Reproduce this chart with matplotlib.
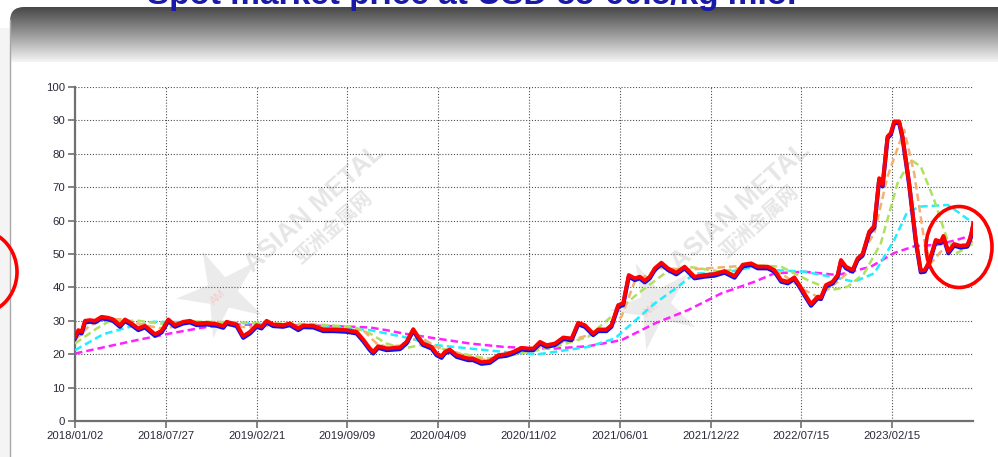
import matplotlib
matplotlib.use("Agg")
import matplotlib.pyplot as plt
import matplotlib.transforms as mtransforms
from matplotlib.patches import Ellipse, Rectangle, FancyBboxPatch, Polygon
from matplotlib.colors import LinearSegmentedColormap
import numpy as np

plt.rcParams['font.family'] = ['Liberation Sans', 'DejaVu Sans']

# ---------------- data (x in tick-interval units, 0 = 2018/01/02) ----------------
tick_labels = ["2018/01/02", "2018/07/27", "2019/02/21", "2019/09/09", "2020/04/09",
               "2020/11/02", "2021/06/01", "2021/12/22", "2022/07/15", "2023/02/15"]

price_x = [0.0, 0.037, 0.073, 0.11, 0.165, 0.22, 0.294, 0.367, 0.422, 0.495, 0.55, 0.624,
           0.697, 0.771, 0.881, 0.954, 1.028, 1.101, 1.193, 1.266, 1.339, 1.45, 1.56, 1.633,
           1.67, 1.78, 1.853, 1.927, 2.0, 2.055, 2.11, 2.183, 2.294, 2.367, 2.459, 2.514,
           2.624, 2.734, 2.844, 2.991, 3.101, 3.174, 3.248, 3.284, 3.339, 3.431, 3.578, 3.651,
           3.725, 3.78, 3.835, 3.927, 3.982, 4.037, 4.073, 4.128, 4.202, 4.33, 4.385, 4.477,
           4.569, 4.661, 4.752, 4.826, 4.917, 4.99, 5.048, 5.121, 5.194, 5.286, 5.377, 5.469,
           5.542, 5.615, 5.707, 5.762, 5.853, 5.908, 5.982, 6.037, 6.099, 6.165, 6.22, 6.275,
           6.33, 6.385, 6.458, 6.531, 6.623, 6.714, 6.824, 6.934, 7.044, 7.154, 7.264, 7.355,
           7.447, 7.52, 7.63, 7.703, 7.777, 7.85, 7.923, 7.978, 8.033, 8.106, 8.179, 8.216,
           8.271, 8.344, 8.399, 8.436, 8.491, 8.564, 8.619, 8.674, 8.747, 8.802, 8.857, 8.894,
           8.949, 8.985, 9.022, 9.077, 9.114, 9.187, 9.26, 9.315, 9.359, 9.407, 9.48, 9.535,
           9.564, 9.619, 9.681, 9.755, 9.828, 9.864, 9.894]
price = [25.2, 27.2, 26.7, 30.0, 30.2, 30.0, 31.2, 30.9, 30.4, 28.7, 30.4, 29.2,
         27.7, 28.5, 26.0, 27.0, 30.4, 28.7, 29.7, 30.0, 29.2, 29.4, 29.0, 28.4,
         29.7, 28.9, 25.4, 26.7, 28.7, 28.2, 30.0, 28.9, 28.7, 29.2, 27.7, 28.6,
         28.5, 27.4, 27.4, 27.2, 26.7, 24.4, 21.7, 20.7, 22.4, 21.7, 22.0, 23.7,
         27.5, 25.2, 23.2, 22.2, 20.2, 19.4, 20.7, 21.4, 19.7, 18.7, 18.7, 17.6,
         17.9, 19.7, 20.0, 20.7, 21.9, 21.7, 21.7, 23.7, 22.7, 23.2, 25.0, 24.7,
         29.4, 28.7, 26.2, 27.4, 27.4, 28.7, 34.7, 35.2, 43.7, 42.7, 43.2, 42.0,
         43.2, 45.7, 47.4, 45.7, 44.4, 46.2, 43.2, 43.7, 44.0, 44.9, 43.4, 46.8,
         47.2, 46.2, 46.2, 45.2, 42.2, 41.7, 43.0, 40.7, 38.2, 35.0, 37.2, 37.0,
         40.7, 41.7, 43.7, 48.2, 46.2, 45.2, 48.7, 50.0, 56.7, 58.4, 72.7, 70.7,
         85.2, 86.2, 89.7, 89.7, 85.2, 71.2, 54.2, 45.0, 45.2, 47.7, 54.2, 53.7,
         55.4, 50.7, 53.0, 52.4, 52.7, 55.2, 59.2]

ma_orange_x = [0.0, 0.165, 0.312, 0.5, 0.8, 1.0, 1.2, 1.5, 1.9, 2.1, 2.5, 3.0, 3.174, 3.321,
               3.431, 3.615, 3.798, 3.982, 4.349, 4.532, 4.899, 5.469, 5.835, 6.018, 6.165,
               6.458, 6.751, 7.484, 7.777, 8.033, 8.179, 8.399, 8.582, 8.802, 8.949, 9.132,
               9.242, 9.352, 9.425, 9.535, 9.681, 9.894]
ma_orange = [24.2, 28.7, 30.2, 30.5, 28.5, 27.5, 29.5, 29.3, 28.0, 28.5, 28.5, 27.3, 27.2, 23.2,
             22.2, 22.7, 25.2, 22.2, 19.2, 18.2, 20.7, 24.2, 27.2, 31.2, 41.8,
             45.8, 45.3, 46.7, 44.2, 39.2, 37.2, 41.7, 46.2, 56.2, 73.2, 87.2,
             74.2, 54.2, 47.2, 50.7, 52.2, 53.7]

ma_green_x = [0.0, 0.239, 0.385, 0.7, 1.0, 1.3, 1.8, 2.2, 2.6, 3.064, 3.248, 3.431, 3.615,
              3.798, 3.982, 4.165, 4.349, 4.532, 4.716, 4.899, 5.286, 5.652, 5.945, 6.201,
              6.495, 6.751, 7.117, 7.484, 7.777, 8.07, 8.326, 8.509, 8.692, 8.875, 9.059,
              9.205, 9.315, 9.462, 9.608, 9.718, 9.894]
ma_green = [23.2, 27.7, 30.0, 30.0, 29.0, 29.8, 29.5, 29.2, 29.0, 28.2, 26.2, 23.2, 21.7,
            22.7, 22.2, 20.7, 19.7, 18.7, 19.2, 20.2, 22.2, 25.2, 32.2, 38.2,
            44.2, 46.2, 44.7, 46.7, 46.2, 42.2, 39.2, 40.2, 44.2, 53.2, 71.2,
            78.2, 76.2, 66.2, 54.2, 50.3, 53.2]

ma_cyan_x = [0.0, 0.312, 0.606, 0.862, 1.78, 2.881, 3.248, 3.615, 3.982, 4.349, 4.716, 5.1,
             5.286, 5.652, 5.945, 6.092, 6.385, 6.641, 6.824, 7.117, 7.484, 7.703, 8.033,
             8.326, 8.582, 8.802, 9.022, 9.168, 9.315, 9.608, 9.718, 9.894]
ma_cyan = [21.2, 26.0, 28.2, 29.7, 29.4, 28.2, 27.2, 25.2, 22.7, 21.7, 20.7, 20.0,
           20.7, 22.2, 24.7, 28.2, 35.2, 40.2, 44.2, 44.2, 46.2, 45.2, 44.7,
           43.2, 41.7, 44.2, 54.2, 62.7, 64.2, 64.7, 62.7, 59.2]

ma_magenta_x = [0.0, 0.679, 1.046, 1.413, 1.706, 2.514, 3.064, 3.248, 3.431, 3.615, 3.982,
                4.349, 4.716, 5.1, 5.286, 5.652, 6.018, 6.385, 6.751, 7.117, 7.484, 7.703,
                8.033, 8.399, 8.766, 9.022, 9.242, 9.498, 9.681, 9.894]
ma_magenta = [20.2, 24.2, 26.2, 28.0, 28.9, 28.7, 28.2, 28.0, 27.2, 26.2, 24.7,
              23.2, 22.2, 21.7, 21.7, 22.4, 24.2, 29.2, 33.2, 38.2, 41.7, 44.2,
              44.7, 43.7, 46.2, 50.3, 52.3, 52.8, 54.0, 55.7]

# ---------------- figure ----------------
W, H = 998, 457
fig = plt.figure(figsize=(W / 100, H / 100), dpi=100)
fig.patch.set_facecolor('white')

# background decoration axes (pixel coordinates, y down)
bg = fig.add_axes([0, 0, 1, 1], zorder=-5)
bg.set_xlim(0, W)
bg.set_ylim(H, 0)
bg.axis('off')
bg.add_patch(Rectangle((0, 28), 10, H - 28, facecolor='#f4f4f4', edgecolor='none'))
grad = np.linspace(0, 1, 100).reshape(-1, 1)
cm = LinearSegmentedColormap.from_list('g', ['#484848', '#9a9a9a', '#f4f4f4'])
im = bg.imshow(grad, extent=[10, W + 20, 62, 7], aspect='auto', cmap=cm, zorder=1)
clip = FancyBboxPatch((10, 7), W + 10, 80, boxstyle='round,pad=0,rounding_size=14',
                      transform=bg.transData, facecolor='none', edgecolor='none')
bg.add_patch(clip)
im.set_clip_path(clip)
bg.plot([10.5, 10.5], [20, H], color='#a8a8a8', lw=1.0, zorder=2)

# watermarks (logo star + text)
def star(cx, cy, r_out, r_in, n=5, rot=20):
    pts = []
    for i in range(2 * n):
        r = r_out if i % 2 == 0 else r_in
        a = np.deg2rad(rot + i * 180 / n)
        pts.append((cx + r * np.sin(a), cy - r * np.cos(a)))
    return pts

for (cx, cy), (cx2, cy2), (sx, sy) in [((314, 208), (334, 228), (222, 293)),
                                       ((740, 206), (760, 222), (655, 305))]:
    bg.add_patch(Polygon(star(sx, sy, 46, 16, rot=-25), closed=True,
                         facecolor='#ebebeb', edgecolor='none', zorder=3))
    bg.text(sx - 4, sy + 4, "AM", rotation=42, ha='center', va='center', fontsize=8,
            color='#f6caca', zorder=3.5)
    bg.text(cx, cy, "ASIAN METAL", rotation=42, rotation_mode='anchor', ha='center',
            va='center', fontsize=19, fontweight='bold', color='#e6e6e6', zorder=3)
    bg.text(cx2, cy2, "亚洲金属网", rotation=42, rotation_mode='anchor', ha='center',
            va='center', fontsize=14, fontweight='bold', color='#e6e6e6', zorder=3,
            family=['Noto Sans CJK SC', 'DejaVu Sans'])

# title (cut off at the top edge, as in the screenshot)
fig.text(147 / W, (H - 4) / H, "Spot market price at USD 55-60.5/kg m.o.",
         fontsize=24, fontweight='bold', color='#1a1aa8', ha='left', va='baseline')

# main chart axes
x0, x1, ytop, ybot = 75, 973, 87, 421
ax = fig.add_axes([x0 / W, 1 - ybot / H, (x1 - x0) / W, (ybot - ytop) / H])
ax.set_facecolor('none')
ax.set_xlim(0, 9.89)
ax.set_ylim(0, 100)

ax.set_xticks(range(len(tick_labels)))
ax.set_xticklabels(tick_labels)
ax.set_yticks(range(0, 101, 10))
ax.tick_params(axis='both', labelsize=8.2, colors='#707070', labelcolor='#2a2a3a',
               length=5, width=1.2, direction='out', pad=2)
ax.grid(True, color='#505050', linestyle=(0, (1, 1.6)), linewidth=0.8)
ax.set_axisbelow(True)
for s in ['top', 'right']:
    ax.spines[s].set_visible(False)
for s in ['left', 'bottom']:
    ax.spines[s].set_color('#707070')
    ax.spines[s].set_linewidth(1.6)

dash = (3.0, 1.6)
ax.plot(ma_magenta_x, ma_magenta, color='#ff22ff', lw=1.8, dashes=dash, zorder=3)
ax.plot(ma_cyan_x, ma_cyan, color='#22eeff', lw=1.8, dashes=dash, zorder=3.1)
ax.plot(ma_green_x, ma_green, color='#b0e060', lw=1.8, dashes=dash, zorder=3.2)
ax.plot(ma_orange_x, ma_orange, color='#f4b070', lw=1.8, dashes=dash, zorder=3.3)

down = mtransforms.offset_copy(ax.transData, fig=fig, x=0, y=-1.6, units='dots')
ax.plot(price_x, price, color='#1010ee', lw=3.0, transform=down, zorder=4,
        solid_joinstyle='round')
ax.plot(price_x, price, color='#ff0000', lw=2.8, zorder=5, solid_joinstyle='round')

# red hand-drawn highlight circles
ov = fig.add_axes([0, 0, 1, 1], zorder=10)
ov.set_xlim(0, W)
ov.set_ylim(H, 0)
ov.axis('off')
ov.patch.set_alpha(0)
ov.add_patch(Ellipse((959, 247), 66, 81, facecolor='none', edgecolor='#ff0000', lw=2.6))
ov.add_patch(Ellipse((-22, 272), 78, 84, facecolor='none', edgecolor='#ff0000', lw=2.6))

fig.savefig("out.png", dpi=100)
